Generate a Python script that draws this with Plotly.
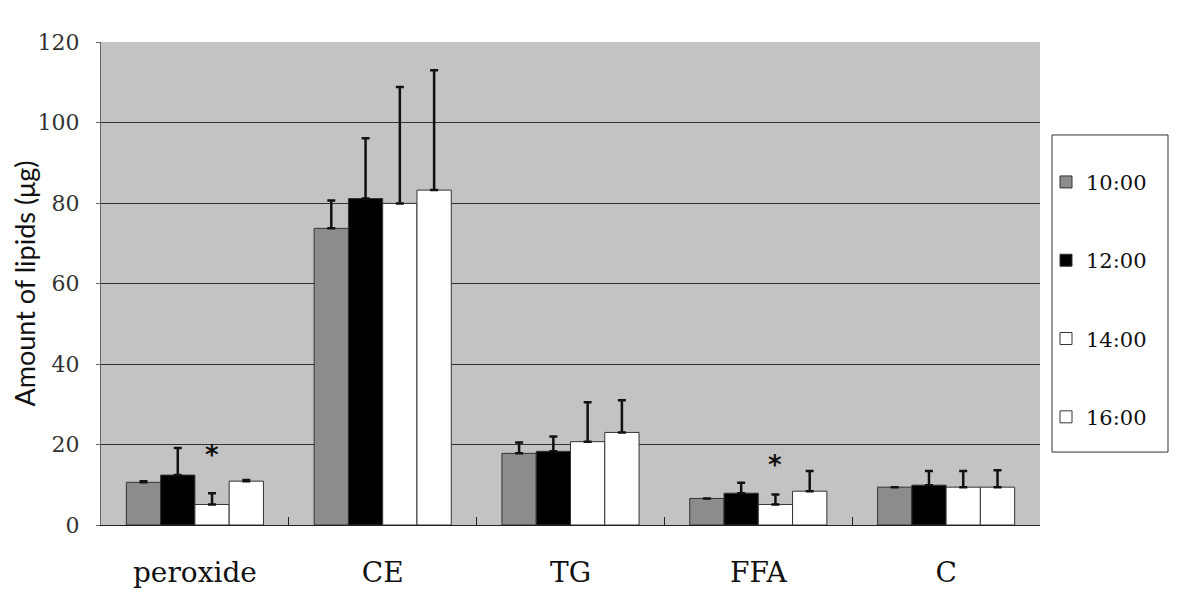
import plotly.graph_objects as go

categories = ["peroxide", "CE", "TG", "FFA", "C"]
series_names = ["10:00", "12:00", "14:00", "16:00"]
series_colors = ["#8c8c8c", "#000000", "#ffffff", "#ffffff"]

# mean values per time point
values = [
    [10.6, 73.7, 17.8, 6.6, 9.4],
    [12.4, 81.1, 18.3, 7.9, 9.9],
    [5.1, 79.9, 20.7, 5.1, 9.4],
    [10.9, 83.2, 23.0, 8.4, 9.4],
]
# top of the error bar (mean + SD)
err_tops = [
    [10.9, 80.6, 20.5, 6.6, 9.4],
    [19.1, 96.1, 22.0, 10.5, 13.4],
    [7.9, 108.8, 30.5, 7.6, 13.4],
    [11.2, 113.0, 31.0, 13.4, 13.6],
]

# significance marks: (category index, series index, y)
stars = [(0, 2, 17.4), (3, 2, 15.0)]

fig = go.Figure()
for name, color, vals, tops in zip(series_names, series_colors, values, err_tops):
    fig.add_trace(
        go.Bar(
            x=categories,
            y=vals,
            name=name,
            legendgroup=name,
            marker=dict(color=color, line=dict(color="#333333", width=1)),
            error_y=dict(
                type="data",
                symmetric=False,
                array=[t - v for t, v in zip(tops, vals)],
                arrayminus=[0] * len(vals),
                color="#111111",
                thickness=2.5,
                width=4,
            ),
        )
    )

bargap = 0.27
bar_w = (1 - bargap) / len(series_names)
annotations = [
    dict(
        x=ci + (si - (len(series_names) - 1) / 2) * bar_w,
        y=sy,
        xref="x",
        yref="y",
        text="<b>*</b>",
        showarrow=False,
        font=dict(family="DejaVu Sans", size=26, color="#111111"),
    )
    for ci, si, sy in stars
]

# page body adds an 8px offset, so the figure is slightly smaller
fig.update_layout(
    width=1178,
    height=601,
    margin=dict(l=93, r=146, t=34, b=84),
    paper_bgcolor="white",
    plot_bgcolor="#c3c3c3",
    barmode="group",
    bargap=bargap,
    bargroupgap=0,
    showlegend=True,
    legend=dict(
        x=1.0064,
        y=0.752,
        xanchor="left",
        yanchor="top",
        bgcolor="rgba(0,0,0,0)",
        borderwidth=0,
        tracegroupgap=48,
        font=dict(family="DejaVu Serif", size=21, color="#111111"),
        itemwidth=30,
    ),
    shapes=[
        dict(
            type="rect",
            xref="paper",
            yref="paper",
            x0=1.0128,
            x1=1.1363,
            y0=0.151,
            y1=0.8075,
            line=dict(color="#333333", width=1),
            fillcolor="white",
            layer="below",
        )
    ],
    annotations=annotations,
    xaxis=dict(
        type="category",
        automargin=False,
        showline=True,
        linecolor="#222222",
        linewidth=1,
        ticks="inside",
        tickson="boundaries",
        ticklen=8,
        tickcolor="#222222",
        ticklabelstandoff=22,
        tickfont=dict(family="DejaVu Serif", size=28, color="#111111"),
        showgrid=False,
    ),
    yaxis=dict(
        range=[0, 120],
        dtick=20,
        automargin=False,
        showline=True,
        linecolor="#666666",
        linewidth=1,
        ticks="outside",
        ticklen=4,
        tickcolor="#666666",
        ticklabelstandoff=12,
        showgrid=True,
        gridcolor="#333333",
        gridwidth=1,
        zeroline=False,
        tickfont=dict(family="DejaVu Serif", size=22, color="#333333"),
        title=dict(
            text="Amount of lipids (μg)",
            font=dict(family="Lato", size=27, color="#111111"),
            standoff=0,
        ),
    ),
)

fig.write_html("out.html")
